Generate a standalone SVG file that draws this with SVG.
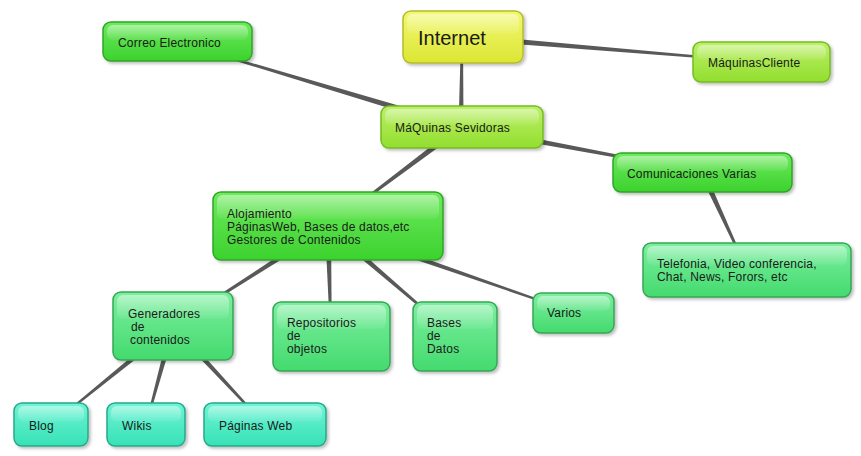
<svg xmlns="http://www.w3.org/2000/svg" width="861" height="456" viewBox="0 0 861 456">
<defs>
  <linearGradient id="gY" x1="0" y1="0" x2="0" y2="1"><stop offset="0" stop-color="#f2f872"/><stop offset="1" stop-color="#dce634"/></linearGradient>
  <linearGradient id="gL" x1="0" y1="0" x2="0" y2="1"><stop offset="0" stop-color="#bdf06a"/><stop offset="1" stop-color="#92de2e"/></linearGradient>
  <linearGradient id="gG" x1="0" y1="0" x2="0" y2="1"><stop offset="0" stop-color="#6eea5e"/><stop offset="1" stop-color="#3cd22e"/></linearGradient>
  <linearGradient id="gM" x1="0" y1="0" x2="0" y2="1"><stop offset="0" stop-color="#7cefa0"/><stop offset="1" stop-color="#44da6e"/></linearGradient>
  <linearGradient id="gT" x1="0" y1="0" x2="0" y2="1"><stop offset="0" stop-color="#70f4d6"/><stop offset="1" stop-color="#36e2b6"/></linearGradient>
  <linearGradient id="gH" x1="0" y1="0" x2="0" y2="1"><stop offset="0" stop-color="#ffffff" stop-opacity="0.45"/><stop offset="1" stop-color="#ffffff" stop-opacity="0.05"/></linearGradient>
  <filter id="sh" x="-10%" y="-10%" width="130%" height="140%"><feDropShadow dx="2" dy="2" stdDeviation="1.5" flood-color="#000" flood-opacity="0.25"/></filter>
</defs>
<style>
  .n rect.b { stroke-width: 1.5; filter: url(#sh); }
  .y rect.b { fill: url(#gY); stroke: #b4bc2c; }
  .l rect.b { fill: url(#gL); stroke: #74bc22; }
  .g rect.b { fill: url(#gG); stroke: #2ea626; }
  .m rect.b { fill: url(#gM); stroke: #36a656; }
  .t rect.b { fill: url(#gT); stroke: #28a88a; }
  rect.h { fill: url(#gH); }
  text { font-family: "Liberation Sans", Arial, sans-serif; font-size: 12px; fill: #1a1a1a; letter-spacing: 0.2px; }
  .big { font-size: 20px; letter-spacing: 0; }
  #connectors polygon { fill: #595959; }
</style>

<g id="connectors">
  <polygon points="463.5,127 463,37 461,37 458.5,127"/>
  <polygon points="461.9,124.1 177.2,41.2 176.8,42.8 460.1,129.9"/>
  <polygon points="460.4,130 701.9,172.8 702.1,171.2 461.6,124"/>
  <polygon points="459.2,124.6 327.5,226.4 328.5,227.6 462.8,129.4"/>
  <polygon points="461.75,40 761.9,62.8 762.1,61.2 462.25,34"/>
  <polygon points="699.3,173.3 746.3,270.3 747.7,269.7 704.7,170.7"/>
  <polygon points="326.4,224.5 172.6,325.3 173.4,326.7 329.6,229.5"/>
  <polygon points="325,227.1 330.2,336 331.8,336 331,226.9"/>
  <polygon points="326.05,229.3 454.5,336.6 455.5,335.4 329.95,224.7"/>
  <polygon points="327,229.8 572.7,312.8 573.3,311.2 329,224.2"/>
  <polygon points="171.1,323.7 50.5,424.4 51.5,425.6 174.9,328.3"/>
  <polygon points="170.1,325.2 145.2,424.8 146.8,425.2 175.9,326.8"/>
  <polygon points="170.8,328 264.4,425.5 265.6,424.5 175.2,324"/>
</g>

<g id="internet" class="n y">
  <rect class="b" x="403" y="11" width="120" height="52" rx="8"/>
  <rect class="h" x="407" y="14" width="112" height="20" rx="6"/>
  <text class="big" x="418" y="45">Internet</text>
</g>
<g id="correo" class="n g">
  <rect class="b" x="103" y="22" width="149" height="39" rx="8"/>
  <rect class="h" x="107" y="25" width="141" height="15" rx="6"/>
  <text x="118" y="47">Correo Electronico</text>
</g>
<g id="cliente" class="n l">
  <rect class="b" x="693" y="42" width="137" height="40" rx="8"/>
  <rect class="h" x="697" y="45" width="129" height="15" rx="6"/>
  <text x="708" y="67">MáquinasCliente</text>
</g>
<g id="sevidoras" class="n l">
  <rect class="b" x="381" y="106" width="162" height="42" rx="8"/>
  <rect class="h" x="385" y="109" width="154" height="16" rx="6"/>
  <text x="395" y="132">MáQuinas Sevidoras</text>
</g>
<g id="comunicaciones" class="n g">
  <rect class="b" x="613" y="153" width="179" height="39" rx="8"/>
  <rect class="h" x="617" y="156" width="171" height="15" rx="6"/>
  <text x="627" y="178">Comunicaciones Varias</text>
</g>
<g id="telefonia" class="n m">
  <rect class="b" x="643" y="243" width="208" height="54" rx="8"/>
  <rect class="h" x="647" y="246" width="200" height="19" rx="6"/>
  <text x="657" y="268">Telefonia, Video conferencia,</text>
  <text x="657" y="281">Chat, News, Forors, etc</text>
</g>
<g id="alojamiento" class="n g">
  <rect class="b" x="213" y="192" width="230" height="68" rx="8"/>
  <rect class="h" x="217" y="195" width="222" height="24" rx="6"/>
  <text x="227" y="218">Alojamiento</text>
  <text x="227" y="231">PáginasWeb, Bases de datos,etc</text>
  <text x="227" y="244">Gestores de Contenidos</text>
</g>
<g id="generadores" class="n m">
  <rect class="b" x="113" y="292" width="120" height="68" rx="8"/>
  <rect class="h" x="117" y="295" width="112" height="24" rx="6"/>
  <text x="128" y="318">Generadores</text>
  <text x="131" y="331">de</text>
  <text x="130" y="344">contenidos</text>
</g>
<g id="repositorios" class="n m">
  <rect class="b" x="273" y="302" width="117" height="69" rx="8"/>
  <rect class="h" x="277" y="305" width="109" height="24" rx="6"/>
  <text x="287" y="327">Repositorios</text>
  <text x="287" y="340">de</text>
  <text x="287" y="353">objetos</text>
</g>
<g id="bases" class="n m">
  <rect class="b" x="413" y="302" width="84" height="69" rx="8"/>
  <rect class="h" x="417" y="305" width="76" height="24" rx="6"/>
  <text x="427" y="327">Bases</text>
  <text x="427" y="340">de</text>
  <text x="427" y="353">Datos</text>
</g>
<g id="varios" class="n m">
  <rect class="b" x="533" y="293" width="81" height="40" rx="8"/>
  <rect class="h" x="537" y="296" width="73" height="15" rx="6"/>
  <text x="547" y="317">Varios</text>
</g>
<g id="blog" class="n t">
  <rect class="b" x="14" y="403" width="74" height="43" rx="8"/>
  <rect class="h" x="18" y="406" width="66" height="16" rx="6"/>
  <text x="29" y="430">Blog</text>
</g>
<g id="wikis" class="n t">
  <rect class="b" x="107" y="403" width="78" height="43" rx="8"/>
  <rect class="h" x="111" y="406" width="70" height="16" rx="6"/>
  <text x="122" y="430">Wikis</text>
</g>
<g id="paginas" class="n t">
  <rect class="b" x="204" y="403" width="122" height="43" rx="8"/>
  <rect class="h" x="208" y="406" width="114" height="16" rx="6"/>
  <text x="219" y="430">Páginas Web</text>
</g>
</svg>
